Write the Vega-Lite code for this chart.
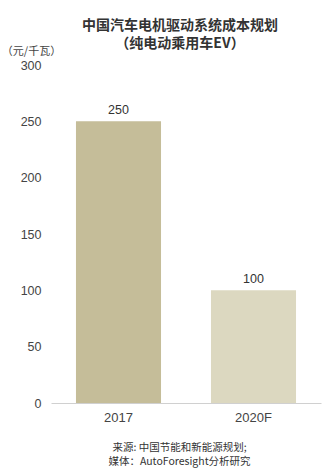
{
  "$schema": "https://vega.github.io/schema/vega-lite/v6.json",
  "autosize": "none",
  "width": 270,
  "height": 338,
  "padding": {"left": 51, "top": 65, "right": 4, "bottom": 68},
  "background": "#ffffff",
  "config": {
    "view": {"stroke": null},
    "font": "Liberation Sans"
  },
  "title": {
    "text": ["中国汽车电机驱动系统成本规划", "（纯电动乘用车EV）"],
    "font": "Noto Sans CJK SC",
    "fontSize": 14,
    "fontWeight": "bold",
    "color": "#333333",
    "lineHeight": 18,
    "anchor": "middle",
    "dx": -6,
    "dy": 22,
    "offset": 16
  },
  "data": {
    "values": [
      {"year": "2017", "cost": 250},
      {"year": "2020F", "cost": 100}
    ]
  },
  "encoding": {
    "x": {
      "field": "year",
      "type": "nominal",
      "sort": null,
      "scale": {"paddingInner": 0.37, "paddingOuter": 0.185},
      "axis": {
        "labelAngle": 0,
        "labelFontSize": 13,
        "labelColor": "#444444",
        "labelPadding": 8,
        "ticks": false,
        "domainColor": "#d0d0d0",
        "title": ["来源: 中国节能和新能源规划;", "媒体：AutoForesight分析研究"],
        "titleFont": "Noto Sans CJK SC",
        "titleFontSize": 10.5,
        "titleFontWeight": "normal",
        "titleColor": "#333333",
        "titleLineHeight": 14,
        "titleAnchor": "middle",
        "titleAlign": "center",
        "titleBaseline": "top",
        "titleX": 128,
        "titleY": 39
      }
    },
    "y": {
      "field": "cost",
      "type": "quantitative",
      "scale": {"domain": [0, 300], "nice": false},
      "axis": {
        "values": [0, 50, 100, 150, 200, 250, 300],
        "grid": false,
        "domain": false,
        "ticks": false,
        "labelFontSize": 12.5,
        "labelColor": "#444444",
        "labelPadding": 10,
        "title": "（元/千瓦）",
        "titleFont": "Noto Sans CJK SC",
        "titleFontSize": 11,
        "titleFontWeight": "normal",
        "titleColor": "#444444",
        "titleAngle": 0,
        "titleAlign": "center",
        "titleBaseline": "middle",
        "titleX": -20,
        "titleY": -14
      }
    }
  },
  "layer": [
    {
      "mark": {"type": "bar"},
      "encoding": {
        "color": {
          "field": "year",
          "type": "nominal",
          "scale": {"domain": ["2017", "2020F"], "range": ["#c5bd99", "#dcd8c0"]},
          "legend": null
        }
      }
    },
    {
      "mark": {"type": "text", "dy": -11, "fontSize": 12.5, "color": "#333333", "baseline": "middle"},
      "encoding": {
        "text": {"field": "cost", "type": "quantitative"}
      }
    }
  ]
}
